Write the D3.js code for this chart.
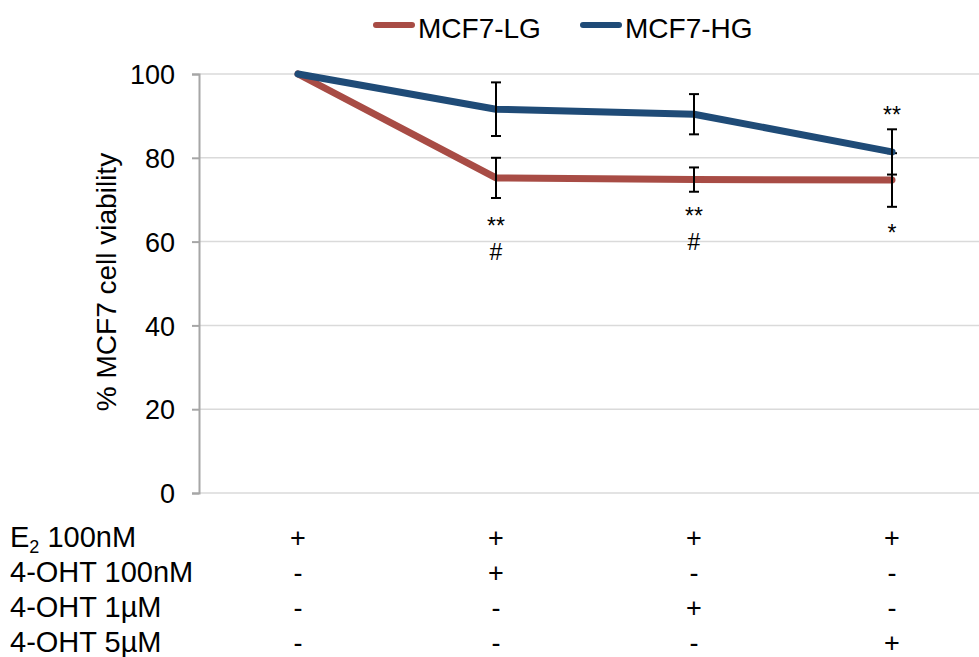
<!DOCTYPE html>
<html>
<head>
<meta charset="utf-8">
<script src="https://cdn.jsdelivr.net/npm/d3@7"></script>
<style>
  body { margin: 0; background: #fff; }
  svg { display: block; font-family: "Liberation Sans", Arial, Helvetica, sans-serif; }
</style>
</head>
<body>
<div id="chart"></div>
<script>
const width = 979;
const height = 657;

// data
const conditions = ['c1', 'c2', 'c3', 'c4'];
const seriesNames = ['MCF7-LG', 'MCF7-HG'];
const seriesColors = ['#a84c45', '#1f4b77'];
const lgValues = [100, 75.2, 74.8, 74.7];
const lgErrors = [0, 4.8, 2.9, 6.4];
const hgValues = [100, 91.6, 90.4, 81.4];
const hgErrors = [0, 6.4, 4.8, 5.4];
const yTicks = [0, 20, 40, 60, 80, 100];

// significance marks: condition index, lines of text, value at first baseline
const marks = [
  { i: 1, lines: ['**', '#'], v: 61.8 },
  { i: 2, lines: ['**', '#'], v: 64.3 },
  { i: 3, lines: ['*'], v: 60.1 },
  { i: 3, lines: ['**'], v: 88.2 }
];

// treatment table under the chart
const rowLabels = ['E2 100nM', '4-OHT 100nM', '4-OHT 1µM', '4-OHT 5µM'];
const treatments = [
  ['+', '+', '+', '+'],
  ['-', '+', '-', '-'],
  ['-', '-', '+', '-'],
  ['-', '-', '-', '+']
];

const series = [
  { name: seriesNames[0], color: seriesColors[0], values: lgValues, errors: lgErrors },
  { name: seriesNames[1], color: seriesColors[1], values: hgValues, errors: hgErrors }
];

const plot = { left: 199, right: 991, top: 74, bottom: 493 };

const x = d3.scaleBand().domain(conditions).range([plot.left, plot.right]);
const cx = i => x(conditions[i]) + x.bandwidth() / 2;
const y = d3.scaleLinear().domain([0, 100]).range([plot.bottom, plot.top]);

const svg = d3.select('#chart')
  .append('svg')
  .attr('width', width)
  .attr('height', height);

// gridlines
svg.append('g')
  .selectAll('line')
  .data(yTicks)
  .join('line')
  .attr('x1', plot.left)
  .attr('x2', plot.right)
  .attr('y1', d => y(d))
  .attr('y2', d => y(d))
  .attr('stroke', '#dadada')
  .attr('stroke-width', 1.5);

// y axis
const yAxis = svg.append('g')
  .attr('transform', `translate(${plot.left},0)`)
  .call(d3.axisLeft(y).tickValues(yTicks).tickSize(7).tickPadding(17));
yAxis.select('.domain').attr('stroke', '#a6a6a6').attr('stroke-width', 2);
yAxis.selectAll('.tick line').attr('stroke', '#a6a6a6').attr('stroke-width', 2);
yAxis.selectAll('.tick text')
  .attr('font-size', 27)
  .attr('font-family', '"Liberation Sans", Arial, sans-serif')
  .attr('fill', '#000')
  .attr('dy', '0.36em');

svg.append('text')
  .attr('transform', `translate(116,282) rotate(-90)`)
  .attr('text-anchor', 'middle')
  .attr('font-size', 28)
  .text('% MCF7 cell viability');

const line = d3.line()
  .x((d, i) => cx(i))
  .y(d => y(d));

series.forEach(s => {
  svg.append('path')
    .datum(s.values)
    .attr('d', line)
    .attr('fill', 'none')
    .attr('stroke', s.color)
    .attr('stroke-width', 7)
    .attr('stroke-linecap', 'round')
    .attr('stroke-linejoin', 'round');

  const bars = s.values.map((v, i) => ({ i, v, e: s.errors[i] })).filter(d => d.e > 0);
  const eg = svg.append('g').attr('stroke', '#000').attr('stroke-width', 2);
  eg.selectAll('line.stem')
    .data(bars)
    .join('line')
    .attr('class', 'stem')
    .attr('x1', d => cx(d.i)).attr('x2', d => cx(d.i))
    .attr('y1', d => y(d.v - d.e)).attr('y2', d => y(d.v + d.e));
  eg.selectAll('line.cap')
    .data(bars.flatMap(d => [{ i: d.i, v: d.v - d.e }, { i: d.i, v: d.v + d.e }]))
    .join('line')
    .attr('class', 'cap')
    .attr('x1', d => cx(d.i) - 5).attr('x2', d => cx(d.i) + 5)
    .attr('y1', d => y(d.v)).attr('y2', d => y(d.v));
});

// significance marks
const markText = svg.append('g')
  .selectAll('text')
  .data(marks)
  .join('text')
  .attr('x', d => cx(d.i))
  .attr('y', d => y(d.v))
  .attr('text-anchor', 'middle')
  .attr('font-size', 23);
markText.selectAll('tspan')
  .data(d => d.lines.map(l => ({ l, x: cx(d.i) })))
  .join('tspan')
  .attr('x', d => d.x)
  .attr('dy', (d, k) => k ? 26 : 0)
  .text(d => d.l);

// legend
const legendPos = [373, 580];
const legend = svg.append('g')
  .selectAll('g')
  .data(series)
  .join('g')
  .attr('transform', (d, i) => `translate(${legendPos[i]},0)`);
legend.append('line')
  .attr('x1', 3).attr('x2', 39)
  .attr('y1', 25).attr('y2', 25)
  .attr('stroke', d => d.color)
  .attr('stroke-width', 6)
  .attr('stroke-linecap', 'round');
legend.append('text')
  .attr('x', 45)
  .attr('y', 38)
  .attr('font-size', 28)
  .text(d => d.name);

// treatment table
const rowY = d3.scaleLinear().domain([0, 1]).range([547, 582]);
const table = svg.append('g');
rowLabels.forEach((label, r) => {
  const t = table.append('text')
    .attr('x', 10)
    .attr('y', rowY(r))
    .attr('font-size', 29);
  if (label.startsWith('E2')) {
    t.append('tspan').text('E');
    t.append('tspan').attr('font-size', 18).attr('dy', 6).text('2');
    t.append('tspan').attr('dy', -6).text(label.slice(2));
  } else {
    t.text(label);
  }
  table.selectAll(null)
    .data(treatments[r])
    .join('text')
    .attr('x', (d, i) => cx(i))
    .attr('y', rowY(r))
    .attr('text-anchor', 'middle')
    .attr('font-size', 27)
    .text(d => d);
});
</script>
</body>
</html>
